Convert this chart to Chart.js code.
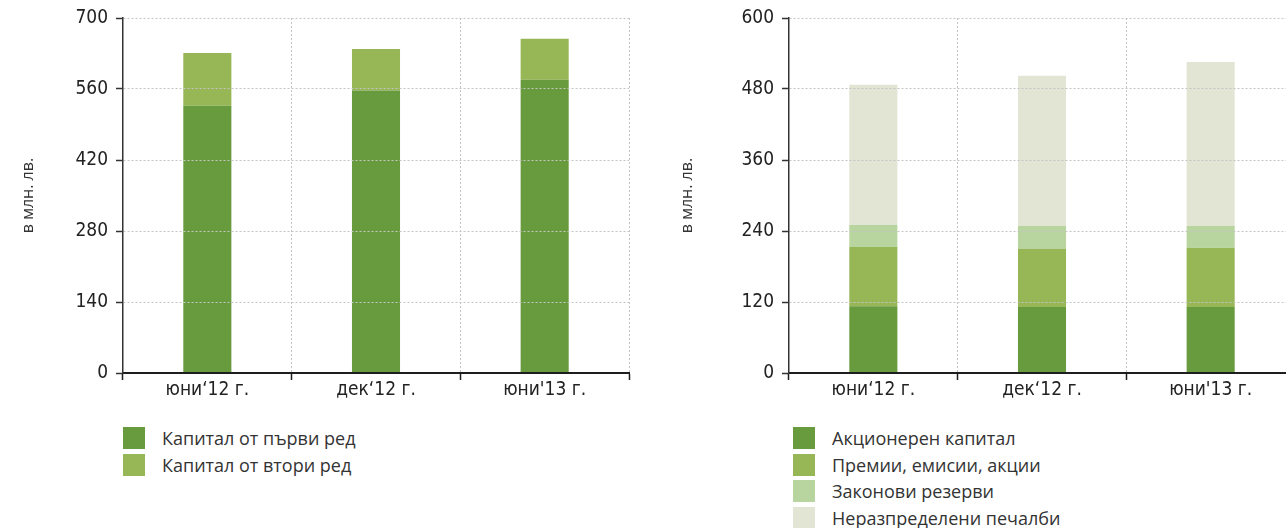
<!DOCTYPE html>
<html>
<head>
<meta charset="utf-8">
<script src="https://cdn.jsdelivr.net/npm/chart.js@4/dist/chart.umd.min.js"></script>
<style>
  html, body { margin: 0; padding: 0; background: #fff; }
  #wrap { position: relative; width: 1286px; height: 528px; overflow: hidden; }
  .panel { position: absolute; top: 0; }
  #capitalCanvas { left: 0; }
  #equityCanvas { left: 643px; }
  .legend { position: absolute; top: 427px; font-family: "Open Sans", sans-serif; font-size: 18px; color: #333; }
  .legend .row { display: flex; align-items: center; height: 22px; margin-bottom: 4.6px; white-space: nowrap; }
  .legend .sw { width: 22px; height: 22px; margin-right: 17px; flex: none; }
  #capitalLegend { left: 123px; }
  #equityLegend { left: 793px; }
</style>
</head>
<body>
<div id="wrap">
  <canvas id="capitalCanvas" class="panel" width="643" height="410"></canvas>
  <canvas id="equityCanvas" class="panel" width="660" height="410"></canvas>
  <div id="capitalLegend" class="legend"></div>
  <div id="equityLegend" class="legend"></div>
</div>
<script>
// Periods shown on both charts
const categories = ['юни‘12 г.', 'дек‘12 г.', "юни'13 г."];

// Capital structure, BGN million
const tierOneCapital = [527, 557, 578];
const tierTwoCapital = [104, 82, 81];

// Equity components, BGN million
const shareCapital = [113, 111.5, 111.5];
const sharePremiums = [100, 98, 100];
const legalReserves = [37, 39, 37];
const retainedEarnings = [237, 254, 277];

// Value axes
const capitalTicks = [0, 140, 280, 420, 560, 700];
const equityTicks = [0, 120, 240, 360, 480, 600];

const unitLabel = 'в млн. лв.';

const GREEN_DARK = '#689a3e';
const GREEN_MID = '#97b655';
const GREEN_LIGHT = '#b8d49f';
const GREEN_PALE = '#e2e5d3';

const tickFont = { family: '"DejaVu Sans Condensed", "Liberation Sans Narrow", sans-serif', size: 19, lineHeight: 1 };

function buildOptions(ticks, axisWidth, titleOffset, rightPad) {
  return {
    responsive: false,
    animation: false,
    devicePixelRatio: 1,
    layout: { padding: { top: 18, right: rightPad, bottom: 0, left: 0 } },
    plugins: { legend: { display: false }, tooltip: { enabled: false } },
    datasets: { bar: { categoryPercentage: 1, barPercentage: 0.285 } },
    scales: {
      x: {
        stacked: true,
        offset: true,
        grid: { offset: true, color: '#c4c4c4', lineWidth: 1, tickColor: '#1e1e1e', tickLength: 7, tickWidth: 1.5, tickBorderDash: [] },
        border: { display: true, z: 2, color: '#1e1e1e', width: 2, dash: [2, 2] },
        ticks: { color: '#222', font: tickFont, padding: 1, maxRotation: 0, autoSkip: false },
        afterFit(scale) { scale.height = 37; }
      },
      y: {
        stacked: true,
        min: ticks[0],
        max: ticks[ticks.length - 1],
        afterBuildTicks(scale) { scale.ticks = ticks.map(v => ({ value: v })); },
        ticks: { color: '#222', font: tickFont, padding: 8 },
        // dotted value lines sit on top of the bars
        grid: { z: 1, color: '#c4c4c4', lineWidth: 1, tickColor: '#333', tickLength: 7, tickWidth: 1.5, tickBorderDash: [] },
        border: { display: true, z: 2, color: '#333', width: 1.5, dash: [2, 2] },
        title: { display: true, text: unitLabel, color: '#333', font: { family: '"Open Sans", sans-serif', size: 16, lineHeight: 1.2 }, padding: { top: titleOffset, bottom: 0 } },
        afterFit(scale) { scale.width = axisWidth; }
      }
    }
  };
}

function renderLegend(el, datasets) {
  el.innerHTML = datasets.map(d =>
    '<div class="row"><span class="sw" style="background:' + d.backgroundColor + '"></span><span>' + d.label + '</span></div>'
  ).join('');
}

const capitalDatasets = [
  { label: 'Капитал от първи ред', data: tierOneCapital, backgroundColor: GREEN_DARK },
  { label: 'Капитал от втори ред', data: tierTwoCapital, backgroundColor: GREEN_MID }
];

const equityDatasets = [
  { label: 'Акционерен капитал', data: shareCapital, backgroundColor: GREEN_DARK },
  { label: 'Премии, емисии, акции', data: sharePremiums, backgroundColor: GREEN_MID },
  { label: 'Законови резерви', data: legalReserves, backgroundColor: GREEN_LIGHT },
  { label: 'Неразпределени печалби', data: retainedEarnings, backgroundColor: GREEN_PALE }
];

new Chart(document.getElementById('capitalCanvas'), {
  type: 'bar',
  data: { labels: categories, datasets: capitalDatasets },
  options: buildOptions(capitalTicks, 123, 19, 14)
});

new Chart(document.getElementById('equityCanvas'), {
  type: 'bar',
  data: { labels: categories, datasets: equityDatasets },
  options: buildOptions(equityTicks, 146, 35, 8)
});

renderLegend(document.getElementById('capitalLegend'), capitalDatasets);
renderLegend(document.getElementById('equityLegend'), equityDatasets);
</script>
</body>
</html>
